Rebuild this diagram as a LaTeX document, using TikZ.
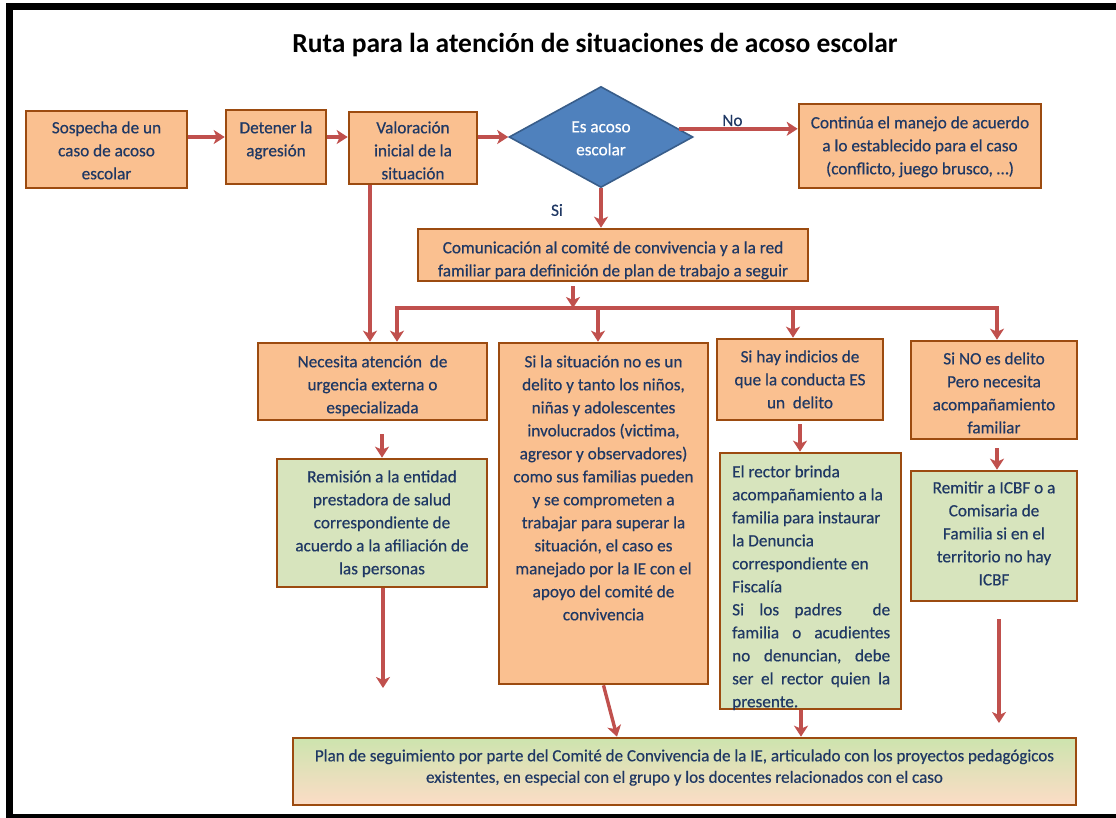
\documentclass[tikz,border=0pt]{standalone}
\usepackage{fontspec}
\setmainfont{Carlito}[RawFeature={embolden=0.5}]
\newfontfamily\titlefont{Carlito}[UprightFont=* Bold]
\usetikzlibrary{arrows.meta,shapes.geometric,calc}
\definecolor{navy}{HTML}{1F3864}
\definecolor{ofill}{HTML}{FAC090}
\definecolor{gfill}{HTML}{D7E4BD}
\definecolor{brd}{HTML}{9C4B10}
\definecolor{ared}{HTML}{C0504D}
\definecolor{dfill}{HTML}{4F81BD}
\definecolor{dbrd}{HTML}{385D8A}
\definecolor{pgreen}{HTML}{CDE4AE}
\definecolor{pmid}{HTML}{FCE8DA}
\definecolor{ppeach}{HTML}{FCDCC6}
\newcommand\tbf{\fontsize{17.2}{23}\selectfont}
\newcommand\jl[1]{\hbox to 158pt{#1}}
\begin{document}
\begin{tikzpicture}[x=1pt,y=-1pt,
  obox/.style={draw=brd, fill=ofill, line width=2.6pt, inner sep=0},
  gbox/.style={draw=brd, fill=gfill, line width=2.6pt, inner sep=0},
  txt/.style={text=navy, align=center, font=\tbf, inner sep=0, anchor=north},
  ln/.style={draw=ared, line width=3.4pt},
  arr/.style={draw=ared, line width=3.4pt, -{Stealth[length=11pt,width=14pt,inset=3pt]}},
  darr/.style={draw=ared, line width=3.4pt, {Stealth[length=11pt,width=14pt,inset=3pt]}-{Stealth[length=11pt,width=14pt,inset=3pt]}}
]
\useasboundingbox (0,0) rectangle (1116,817);
\begin{scope}
  \clip (0,0) rectangle (1116,817);
  \draw[line width=7pt] (9.5,6.5) rectangle (1140,817.5);
\end{scope}

\node[font=\fontsize{27.5}{32}\titlefont, anchor=base, inner sep=0] (title) at (595,52) {Ruta para la atención de situaciones de acoso escolar};

% boxes
\node[obox, minimum width=161, minimum height=77] (s1) at (106.5,149.5) {};
\node[obox, minimum width=100, minimum height=74] (s2) at (276,147) {};
\node[obox, minimum width=128, minimum height=72] (s3) at (413,148) {};
\node[diamond, draw=dbrd, fill=dfill, line width=1.6pt, minimum width=184, minimum height=101, inner sep=0] (dia) at (601,137) {};
\node[obox, minimum width=242, minimum height=84] (cont) at (920,146) {};
\node[obox, minimum width=390, minimum height=52] (com) at (613,255) {};
\node[obox, minimum width=229, minimum height=77] (nec) at (372.5,381.5) {};
\node[obox, minimum width=209, minimum height=341] (sit) at (603.5,513.5) {};
\node[gbox, minimum width=210, minimum height=128] (rem) at (382,523) {};
\node[obox, minimum width=166, minimum height=81] (ind) at (800,379.5) {};
\node[obox, minimum width=166, minimum height=98] (no) at (994,390) {};
\node[gbox, minimum width=181, minimum height=256] (rct) at (810.5,581) {};
\node[gbox, minimum width=166, minimum height=130] (rem2) at (994,536) {};
\node[draw=brd, line width=2.6pt, inner sep=0, minimum width=783, minimum height=67,
      top color=pgreen, middle color=pmid, bottom color=ppeach] (plan) at (684.5,771.5) {};

% texts
\node[txt] (t1) at (106.5,117) {\strut Sospecha de un\\caso de acoso\\escolar};
\node[txt] (t2) at (276,117) {\strut Detener la\\agresión};
\node[txt] (t3) at (413,117) {\strut Valoración\\inicial de la\\situación};
\node[txt, text=white] (td) at (601,116) {\strut Es acoso\\escolar};
\node[txt] (t5) at (920,112) {\strut Continúa el manejo de acuerdo\\a lo establecido para el caso\\(conflicto, juego brusco, …)};
\node[txt] (t6) at (613,237) {\strut Comunicación al comité de convivencia y a la red\\familiar para definición de plan de trabajo a seguir};
\node[txt] (t7) at (372.5,351) {\strut Necesita atención~ de\\urgencia externa o\\especializada};
\node[txt] (t8) at (603.5,351) {\strut Si la situación no es un\\delito y tanto los niños,\\niñas y adolescentes\\involucrados (victima,\\agresor y observadores)\\como sus familias pueden\\y se comprometen a\\trabajar para superar la\\situación, el caso es\\manejado por la IE con el\\apoyo del comité de\\convivencia};
\node[txt] (t9) at (382,466) {\strut Remisión a la entidad\\prestadora de salud\\correspondiente de\\acuerdo a la afiliación de\\las personas};
\node[txt] (t10) at (800,346) {\strut Si hay indicios de\\que la conducta ES\\un~ delito};
\node[txt] (t11) at (994,348) {\strut Si NO es delito\\Pero necesita\\acompañamiento\\familiar};
\node[txt, anchor=north west, align=left] (t12) at (732,461) {\strut El rector brinda\\acompañamiento a la\\familia para instaurar\\la Denuncia\\correspondiente en\\Fiscalía\\\jl{Si\hfill los\hfill padres\hfill\hfill de}\\\jl{familia\hfill o\hfill acudientes}\\\jl{no\hfill denuncian,\hfill debe}\\\jl{ser\hfill el\hfill rector\hfill quien\hfill la}\\presente.};
\node[txt] (t13) at (994,477) {\strut Remitir a ICBF o a\\Comisaria de\\Familia si en el\\territorio no hay\\ICBF};
\node[txt, font=\fontsize{17}{21.5}\selectfont] (t14) at (684.5,746) {\strut Plan de seguimiento por parte del Comité de Convivencia de la IE, articulado con los proyectos pedagógicos\\existentes, en especial con el grupo y los docentes relacionados con el caso};

% coordinates
\coordinate (vx) at (370,0);
\coordinate (d1) at (397,308);
\coordinate (d2) at (598,308);
\coordinate (d3) at (793,308);
\coordinate (d4) at (997,308);
\coordinate (cb) at (573,308);
\coordinate (e1) at (383,688);
\coordinate (e2) at (999,723);
\coordinate (p1) at (617,0);
\coordinate (p2) at (801,0);

% connectors
\draw[arr] (s1.east |- dia.west) -- (s2.west |- dia.west);
\draw[arr] (s2.east |- dia.west) -- (s3.west |- dia.west);
\draw[arr] (s3.east |- dia.west) -- (dia.west);
\draw[arr] (dia.6) -- (dia.6 -| cont.west) node[pos=0.45, above=1pt, text=navy, font=\tbf, inner sep=0] (lno) {No};
\draw[arr] (dia.south) -- (dia.south |- com.north);
\node[text=navy, font=\tbf, inner sep=0] (lsi) at (557,210) {Si};
\draw[arr] ($(com.south -| cb)+(0,4)$) -- (cb);
\draw[darr] (d1 |- nec.north) -- (d1) -- (d4) -- (d4 |- no.north);
\draw[arr] (d2) -- (d2 |- sit.north);
\draw[arr] (d3) -- (d3 |- ind.north);
\draw[arr] (s3.south -| vx) -- (vx |- nec.north);
\draw[arr] ($(nec.south -| rem.north)+(0,13)$) -- (rem.north);
\draw[arr] ($(ind.south)+(0,3)$) -- (ind.south |- rct.north);
\draw[arr] ($(no.south -| d4)+(0,8)$) -- (d4 |- rem2.north);
\draw[arr] (rem.south -| e1) -- (e1);
\draw[arr] (sit.south) -- (p1 |- plan.north);
\draw[arr] (rct.south -| p2) -- (p2 |- plan.north);
\draw[arr] ($(rem2.south -| e2)+(0,17)$) -- (e2);
\end{tikzpicture}
\end{document}
